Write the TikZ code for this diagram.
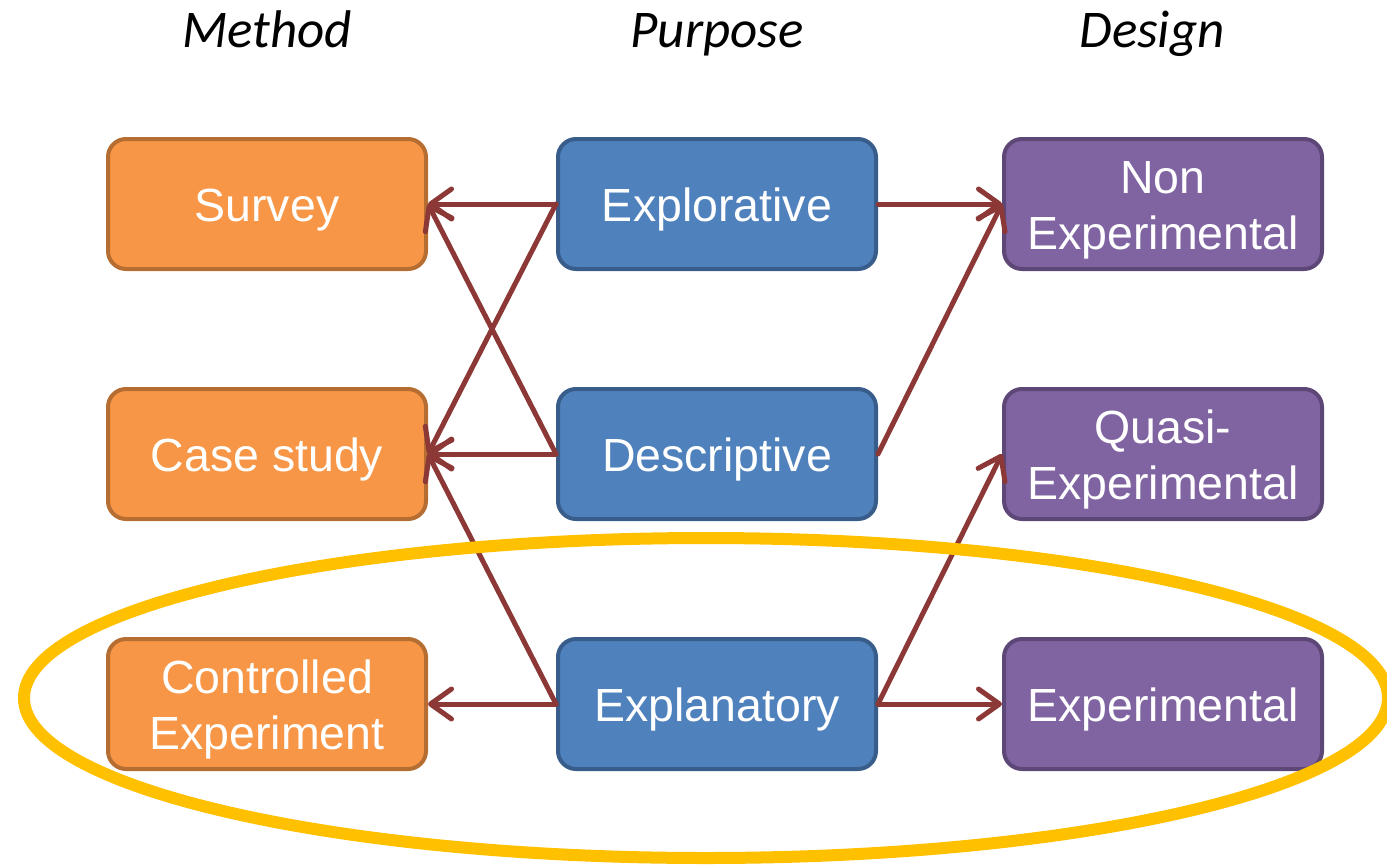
\documentclass[tikz,border=0pt]{standalone}
\usepackage{fontspec}
\setmainfont{Liberation Sans}
\newfontfamily\headfont{Carlito}
\usetikzlibrary{arrows.meta}
\definecolor{orfill}{HTML}{F79646}
\definecolor{ordraw}{HTML}{B66D31}
\definecolor{blfill}{HTML}{4F81BD}
\definecolor{bldraw}{HTML}{385D8A}
\definecolor{pufill}{HTML}{8064A2}
\definecolor{pudraw}{HTML}{5C4776}
\definecolor{arrowred}{HTML}{8C3836}
\definecolor{ringyellow}{HTML}{FFC000}
% box label: centred lines with a fixed row height, set a little low
\newcommand\boxlabel[1]{\raisebox{-6pt}[\height][\depth]{\begin{tabular}{@{}c@{}}#1\end{tabular}}}
\begin{document}
\begin{tikzpicture}[x=1pt,y=-1pt,
  box/.style={rounded corners=18pt, line width=4pt, minimum width=318pt,
    minimum height=130pt, text=white, inner sep=0pt,
    font=\fontsize{46.5}{56}\selectfont},
  method/.style={box, fill=orfill, draw=ordraw},
  purpose/.style={box, fill=blfill, draw=bldraw},
  design/.style={box, fill=pufill, draw=pudraw},
  head/.style={anchor=base, inner sep=0pt, font=\headfont\itshape\fontsize{53}{60}\selectfont},
  link/.style={draw=arrowred, line width=5pt, line cap=round,
    -{Straight Barb[length=21pt, width=30pt, line width=5pt, round]}}]
\useasboundingbox (0,0) rectangle (1387,865);
\clip (0,0) rectangle (1387,865);
% column headings
\node[head] (hm) at (267,47) {Method};
\node[head] (hp) at (717,47) {Purpose};
\node[head] (hd) at (1152,47) {Design};
% research methods
\node[method] (survey) at (267,204) {\boxlabel{Survey}};
\node[method] (case) at (267,454) {\boxlabel{Case study}};
\node[method] (ctrl) at (267,704) {\boxlabel{Controlled\\Experiment}};
% research purposes
\node[purpose] (explor) at (717,204) {\boxlabel{Explorative}};
\node[purpose] (descr) at (717,454) {\boxlabel{Descriptive}};
\node[purpose] (explan) at (717,704) {\boxlabel{Explanatory}};
% study designs
\node[design] (nonexp) at (1163,204) {\boxlabel{Non\\Experimental}};
\node[design] (quasi) at (1163,454) {\boxlabel{Quasi-\\Experimental}};
\node[design] (exper) at (1163,704) {\boxlabel{Experimental}};
% purpose to method
\draw[link] (explor.west) -- (survey.east);
\draw[link] (explor.west) -- (case.east);
\draw[link] (descr.west) -- (survey.east);
\draw[link] (descr.west) -- (case.east);
\draw[link] (explan.west) -- (case.east);
\draw[link] (explan.west) -- (ctrl.east);
% purpose to design
\draw[link] (explor.east) -- (nonexp.west);
\draw[link] (descr.east) -- (nonexp.west);
\draw[link] (explan.east) -- (quasi.west);
\draw[link] (explan.east) -- (exper.west);
% highlight ring around the experimental row
\draw[ringyellow, line width=12pt] (706,698) ellipse [x radius=682pt, y radius=160pt];
\end{tikzpicture}
\end{document}
